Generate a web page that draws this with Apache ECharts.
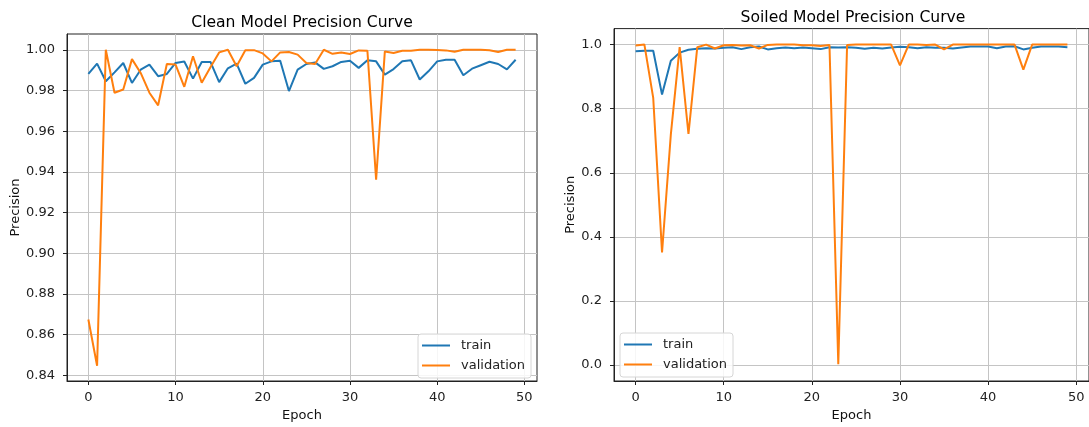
<!DOCTYPE html>
<html>
<head>
<meta charset="utf-8">
<script src="https://cdn.jsdelivr.net/npm/echarts@6/dist/echarts.min.js"></script>
<style>
  html, body { margin: 0; padding: 0; background: #fff; }
  #chart { width: 1089px; height: 427px; }
</style>
</head>
<body>
<div id="chart"></div>
<script>
// Epoch index 0..49
const epochs = Array.from({ length: 50 }, (_, i) => i);

// Clean model precision per epoch
const cleanTrain = [
  0.9881, 0.9932, 0.9845, 0.9889, 0.9935, 0.9837, 0.9902, 0.9927, 0.9870, 0.9881,
  0.9935, 0.9942, 0.9858, 0.9940, 0.9940, 0.9841, 0.9909, 0.9932, 0.9833, 0.9862,
  0.9927, 0.9943, 0.9946, 0.9797, 0.9902, 0.9930, 0.9938, 0.9906, 0.9919, 0.9940,
  0.9946, 0.9911, 0.9948, 0.9943, 0.9878, 0.9905, 0.9943, 0.9948, 0.9854, 0.9894,
  0.9943, 0.9951, 0.9951, 0.9875, 0.9907, 0.9924, 0.9941, 0.9930, 0.9904, 0.9951
];
const cleanValidation = [
  0.8674, 0.8447, 1.0000, 0.9789, 0.9805, 0.9954, 0.9886, 0.9789, 0.9727, 0.9930,
  0.9927, 0.9818, 0.9968, 0.9838, 0.9914, 0.9987, 1.0000, 0.9919, 0.9998, 0.9998,
  0.9982, 0.9943, 0.9987, 0.9989, 0.9976, 0.9935, 0.9930, 1.0000, 0.9980, 0.9987,
  0.9979, 0.9997, 0.9995, 0.9362, 0.9992, 0.9984, 0.9995, 0.9995, 1.0000, 1.0000,
  0.9999, 0.9997, 0.9990, 1.0000, 1.0000, 1.0000, 0.9998, 0.9989, 1.0000, 1.0000
];

// Soiled model precision per epoch
const soiledTrain = [
  0.979, 0.981, 0.981, 0.844, 0.950, 0.975, 0.984, 0.987, 0.989, 0.988,
  0.990, 0.992, 0.986, 0.992, 0.994, 0.985, 0.989, 0.991, 0.989, 0.991,
  0.989, 0.986, 0.992, 0.991, 0.992, 0.990, 0.987, 0.990, 0.988, 0.991,
  0.993, 0.992, 0.989, 0.992, 0.990, 0.990, 0.988, 0.991, 0.994, 0.994,
  0.994, 0.989, 0.994, 0.995, 0.985, 0.990, 0.994, 0.994, 0.994, 0.992
];
const soiledValidation = [
  0.997, 1.000, 0.834, 0.351, 0.720, 0.992, 0.721, 0.992, 1.000, 0.988,
  0.998, 0.999, 0.997, 0.998, 0.988, 0.999, 1.000, 1.000, 1.000, 0.998,
  0.998, 0.996, 0.999, 0.002, 0.999, 1.000, 1.000, 1.000, 1.000, 1.000,
  0.935, 1.000, 1.000, 0.999, 1.000, 0.985, 1.000, 1.000, 1.000, 1.000,
  1.000, 1.000, 1.000, 1.000, 0.922, 1.000, 1.000, 1.000, 1.000, 1.000
];

// Tick values
const epochTicks = [0, 10, 20, 30, 40, 50];
const cleanTicks = [0.84, 0.86, 0.88, 0.90, 0.92, 0.94, 0.96, 0.98, 1.00];
const soiledTicks = [0.0, 0.2, 0.4, 0.6, 0.8, 1.0];

const FONT = 'DejaVu Sans';
const BLUE = '#1f77b4';
const ORANGE = '#ff7f0e';
const GRID_COLOR = '#c4c4c4';
const TEXT_SIZE = 13;

function pairs(ys) { return epochs.map((x, i) => [x, ys[i]]); }

function xAxisCfg(gridIndex) {
  return {
    type: 'value', gridIndex,
    min: -2.45, max: 51.45,
    name: 'Epoch', nameLocation: 'middle', nameGap: 28,
    nameTextStyle: { fontFamily: FONT, fontSize: TEXT_SIZE, color: '#111' },
    axisLine: { show: true, onZero: false, lineStyle: { color: '#222', width: 1 } },
    axisTick: { show: true, length: 4, customValues: epochTicks, lineStyle: { color: '#222' } },
    axisLabel: { customValues: epochTicks, margin: 10, fontFamily: FONT, fontSize: TEXT_SIZE, color: '#222' },
    splitLine: { show: true, lineStyle: { color: GRID_COLOR, width: 1 } }
  };
}

function yAxisCfg(gridIndex, min, max, ticks, digits, gap) {
  return {
    type: 'value', gridIndex, min, max,
    name: 'Precision', nameLocation: 'middle', nameGap: gap,
    nameTextStyle: { fontFamily: FONT, fontSize: TEXT_SIZE, color: '#111' },
    axisLine: { show: true, onZero: false, lineStyle: { color: '#222', width: 1 } },
    axisTick: { show: true, length: 4, customValues: ticks, lineStyle: { color: '#222' } },
    axisLabel: {
      customValues: ticks, margin: 12, fontFamily: FONT, fontSize: TEXT_SIZE, color: '#222',
      formatter: v => v.toFixed(digits)
    },
    splitLine: { show: true, lineStyle: { color: GRID_COLOR, width: 1 } }
  };
}

function lineSeries(name, data, color, idx) {
  return {
    name, type: 'line', xAxisIndex: idx, yAxisIndex: idx,
    data: pairs(data), symbol: 'none', showSymbol: false,
    lineStyle: { color, width: 2 }, itemStyle: { color },
    animation: false
  };
}

function legendCfg(left, top) {
  return {
    left, top, orient: 'vertical',
    data: ['train', 'validation'],
    icon: 'rect',
    itemWidth: 28, itemHeight: 2, itemGap: 7,
    padding: [5, 6, 6, 4],
    backgroundColor: 'rgba(255,255,255,0.85)',
    borderColor: '#d6d6d6', borderWidth: 1, borderRadius: 3,
    textStyle: { fontFamily: FONT, fontSize: TEXT_SIZE, color: '#222', padding: [0, 0, 0, 6] }
  };
}

const chart = echarts.init(document.getElementById('chart'), null, { renderer: 'canvas' });
chart.setOption({
  backgroundColor: '#fff',
  animation: false,
  title: [
    { text: 'Clean Model Precision Curve', left: 302, top: 15, padding: 0, textAlign: 'center',
      textStyle: { fontFamily: FONT, fontSize: 15.6, fontWeight: 'normal', color: '#000' } },
    { text: 'Soiled Model Precision Curve', left: 853, top: 10, padding: 0, textAlign: 'center',
      textStyle: { fontFamily: FONT, fontSize: 15.6, fontWeight: 'normal', color: '#000' } }
  ],
  grid: [
    { left: 67, top: 34, width: 470, height: 350, show: true, borderColor: '#222', borderWidth: 1, backgroundColor: 'transparent' },
    { left: 614, top: 28.6, width: 477.5, height: 355.4, show: true, borderColor: '#222', borderWidth: 1, backgroundColor: 'transparent' }
  ],
  xAxis: [xAxisCfg(0), xAxisCfg(1)],
  yAxis: [
    yAxisCfg(0, 0.8372, 1.00775, cleanTicks, 2, 42),
    yAxisCfg(1, -0.05, 1.05, soiledTicks, 1, 34)
  ],
  legend: [legendCfg(418, 334), legendCfg(620, 333)],
  series: [
    lineSeries('train', cleanTrain, BLUE, 0),
    lineSeries('validation', cleanValidation, ORANGE, 0),
    lineSeries('train', soiledTrain, BLUE, 1),
    lineSeries('validation', soiledValidation, ORANGE, 1)
  ]
});
</script>
</body>
</html>
